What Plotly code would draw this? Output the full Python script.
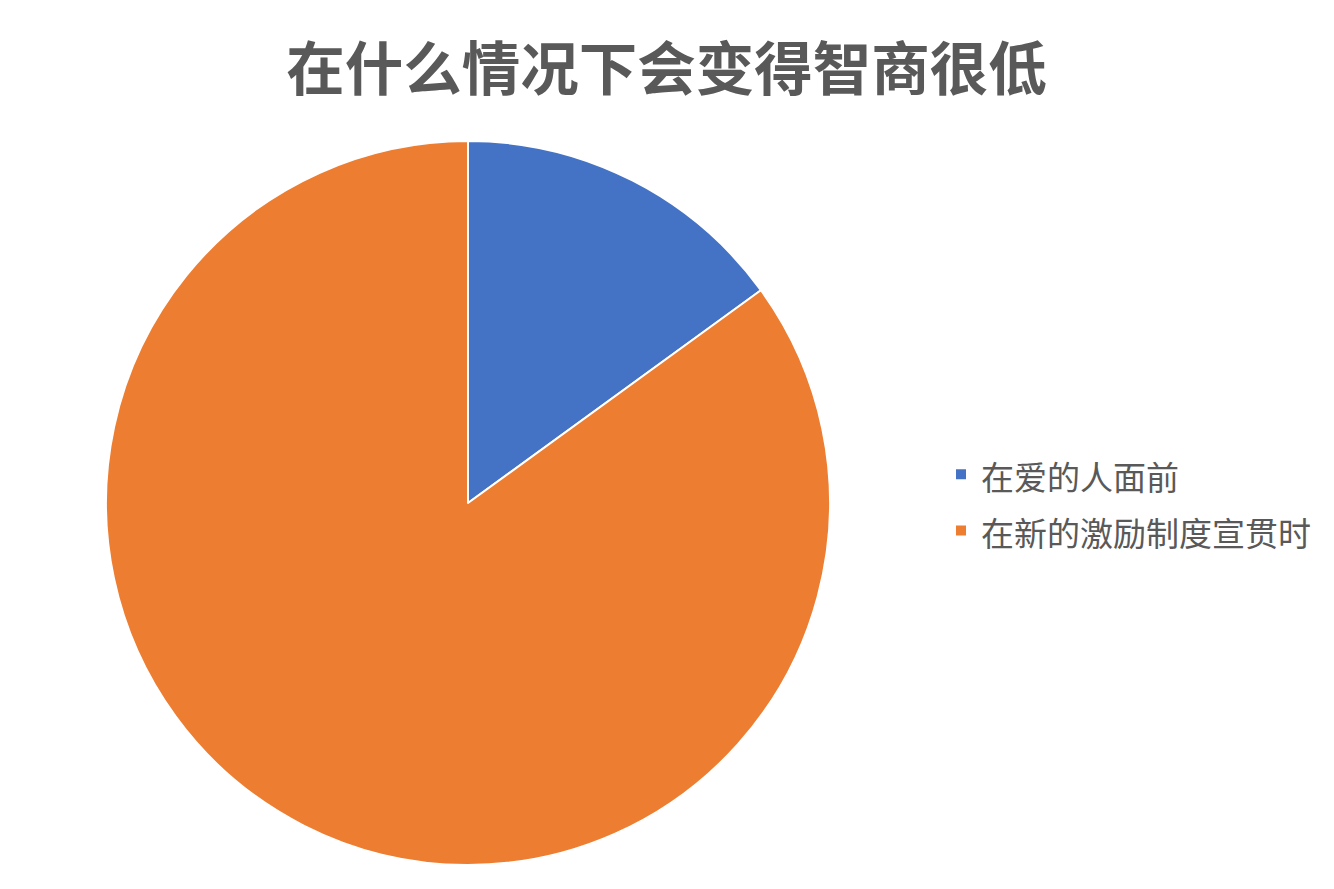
import plotly.graph_objects as go

# slice data
labels = ["在爱的人面前", "在新的激励制度宣贯时"]
values = [15, 85]
colors = ["#4472C4", "#ED7D31"]

W, H = 1334, 889
FONT = "Noto Sans CJK SC, Microsoft YaHei, sans-serif"

# legend rows in the original are spaced wider than plotly's default,
# so the legend font is larger and the text itself is shrunk via span
legend_text = [f'<span style="font-size:33px">{t}</span>' for t in labels]

fig = go.Figure(go.Pie(
    labels=legend_text, values=values, sort=False, direction="clockwise", rotation=0,
    marker=dict(colors=colors, line=dict(color="white", width=2)),
    textinfo="none", hoverinfo="value+percent",
    domain=dict(x=[98 / W, 822 / W], y=[32 / H, 1 - 133 / H]),
))
fig.update_layout(
    width=W, height=H, margin=dict(l=0, r=0, t=0, b=0),
    paper_bgcolor="white", plot_bgcolor="white",
    font=dict(family=FONT, color="#595959"),
    title=dict(text="<b>在什么情况下会变得智商很低</b>", x=658.5 / W, xanchor="center",
               y=1 - 62 / H, yanchor="middle", font=dict(size=58.5, color="#595959", family=FONT)),
    legend=dict(x=933 / W, xanchor="left", y=1 - 494.5 / H, yanchor="middle",
                font=dict(size=41, color="#595959", family=FONT), itemwidth=30,
                tracegroupgap=0),
)
fig.write_html("out.html")
